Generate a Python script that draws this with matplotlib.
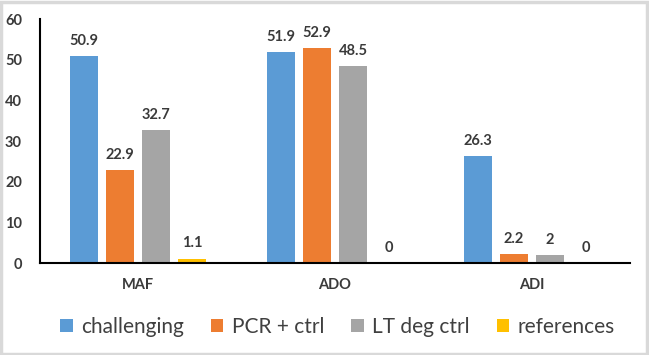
import numpy as np
import matplotlib.pyplot as plt
from matplotlib.patches import Rectangle

plt.rcParams['font.family'] = ['Lato', 'DejaVu Sans']

categories = ['MAF', 'ADO', 'ADI']
series = ['challenging', 'PCR + ctrl', 'LT deg ctrl', 'references']
challenging = [50.9, 51.9, 26.3]
pcr_ctrl = [22.9, 52.9, 2.2]
lt_deg_ctrl = [32.7, 48.5, 2]
references = [1.1, 0, 0]
colors = ['#5B9BD5', '#ED7D31', '#A5A5A5', '#FFC000']

fig = plt.figure(figsize=(6.49, 3.55), dpi=100)
ax = fig.add_axes([0.0616, 0.259, 0.909, 0.687])

x = np.arange(len(categories))
w = 0.142
step = 0.183
for i, (vals, name) in enumerate(zip([challenging, pcr_ctrl, lt_deg_ctrl, references], series)):
    pos = x + (i - 1.5) * step
    bars = ax.bar(pos, vals, w, color=colors[i], label=name)
    for b, v in zip(bars, vals):
        ax.annotate(f'{v:g}', (b.get_x() + b.get_width() / 2, v),
                    xytext=(0, 6), textcoords='offset points',
                    ha='center', va='bottom', fontsize=10.5,
                    fontweight='bold', color='#3A3A3A')

ax.set_xlim(-0.5, 2.5)
ax.set_ylim(0, 60)
ax.set_yticks(range(0, 61, 10))
ax.set_xticks(x)
ax.set_xticklabels(categories)
ax.tick_params(length=0, labelsize=10.5, colors='#3A3A3A', pad=11)
ax.tick_params(axis='y', pad=13)
for lab in ax.get_xticklabels() + ax.get_yticklabels():
    lab.set_fontweight('bold')
ax.spines['right'].set_visible(False)
ax.spines['top'].set_visible(False)
ax.spines['left'].set_linewidth(1.5)
ax.spines['bottom'].set_linewidth(1.5)

fig.legend(loc='center', bbox_to_anchor=(0.52, 0.08), ncol=4, frameon=False,
           fontsize=15, handlelength=0.6, handleheight=0.6, handletextpad=0.4,
           columnspacing=1.3, labelcolor='#404040')

fig.patches.append(Rectangle((0.002, 0.003), 0.995, 0.992, transform=fig.transFigure,
                             fill=False, edgecolor='#D9D9D9', linewidth=2.5))

fig.savefig('out.png', dpi=100)
